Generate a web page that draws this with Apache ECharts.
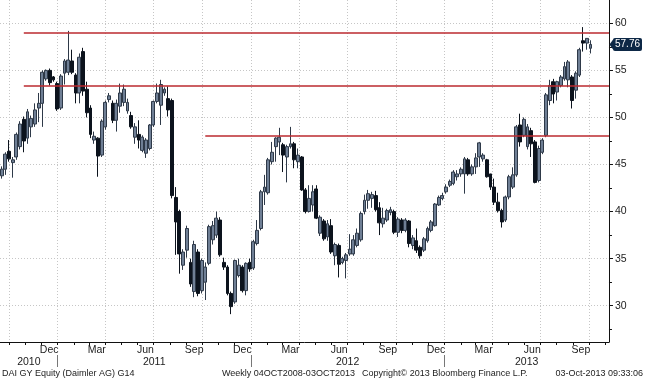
<!DOCTYPE html>
<html><head><meta charset="utf-8">
<script src="https://cdn.jsdelivr.net/npm/echarts@6/dist/echarts.min.js"></script>
<style>html,body{margin:0;padding:0;background:#fff}#c{width:645px;height:380px}</style>
</head><body><div id="c"></div>
<script>
// Weekly candles (week ending dates)
const weeks = [
'2010-09-17','2010-09-24','2010-10-01','2010-10-08','2010-10-15','2010-10-22','2010-10-29','2010-11-05','2010-11-12','2010-11-19',
'2010-11-26','2010-12-03','2010-12-10','2010-12-17','2010-12-24','2010-12-31','2011-01-07','2011-01-14','2011-01-21','2011-01-28',
'2011-02-04','2011-02-11','2011-02-18','2011-02-25','2011-03-04','2011-03-11','2011-03-18','2011-03-25','2011-04-01','2011-04-08',
'2011-04-15','2011-04-22','2011-04-29','2011-05-06','2011-05-13','2011-05-20','2011-05-27','2011-06-03','2011-06-10','2011-06-17',
'2011-06-24','2011-07-01','2011-07-08','2011-07-15','2011-07-22','2011-07-29','2011-08-05','2011-08-12','2011-08-19','2011-08-26',
'2011-09-02','2011-09-09','2011-09-16','2011-09-23','2011-09-30','2011-10-07','2011-10-14','2011-10-21','2011-10-28','2011-11-04',
'2011-11-11','2011-11-18','2011-11-25','2011-12-02','2011-12-09','2011-12-16','2011-12-23','2011-12-30','2012-01-06','2012-01-13',
'2012-01-20','2012-01-27','2012-02-03','2012-02-10','2012-02-17','2012-02-24','2012-03-02','2012-03-09','2012-03-16','2012-03-23',
'2012-03-30','2012-04-06','2012-04-13','2012-04-20','2012-04-27','2012-05-04','2012-05-11','2012-05-18','2012-05-25','2012-06-01',
'2012-06-08','2012-06-15','2012-06-22','2012-06-29','2012-07-06','2012-07-13','2012-07-20','2012-07-27','2012-08-03','2012-08-10',
'2012-08-17','2012-08-24','2012-08-31','2012-09-07','2012-09-14','2012-09-21','2012-09-28','2012-10-05','2012-10-12','2012-10-19',
'2012-10-26','2012-11-02','2012-11-09','2012-11-16','2012-11-23','2012-11-30','2012-12-07','2012-12-14','2012-12-21','2012-12-28',
'2013-01-04','2013-01-11','2013-01-18','2013-01-25','2013-02-01','2013-02-08','2013-02-15','2013-02-22','2013-03-01','2013-03-08',
'2013-03-15','2013-03-22','2013-03-29','2013-04-05','2013-04-12','2013-04-19','2013-04-26','2013-05-03','2013-05-10','2013-05-17',
'2013-05-24','2013-05-31','2013-06-07','2013-06-14','2013-06-21','2013-06-28','2013-07-05','2013-07-12','2013-07-19','2013-07-26',
'2013-08-02','2013-08-09','2013-08-16','2013-08-23','2013-08-30','2013-09-06','2013-09-13','2013-09-20','2013-09-27','2013-10-04'
];
const open = [
43.8,44.5,46.4,45.2,45.8,46.9,49.8,47.8,49.0,49.3, 51.0,51.5,54.1,55.0,54.3,53.6,51.0,54.7,54.8,56.0,
54.5,52.6,57.0,53.0,51.0,47.6,47.8,46.0,49.0,51.9, 51.5,49.7,51.2,51.6,50.7,50.2,47.9,48.2,46.5,46.2,
46.7,49.2,51.7,51.3,52.6,52.0,51.8,41.5,40.0,34.3, 35.9,34.6,31.5,35.7,31.6,32.5,34.5,37.0,37.5,39.1,
34.6,34.1,31.3,30.4,33.2,34.1,31.6,34.6,34.0,36.6, 38.2,42.1,42.0,45.3,46.9,47.4,47.1,45.8,46.9,47.2,
45.3,45.8,42.3,40.0,40.7,42.4,37.7,39.0,37.3,38.5, 35.3,36.4,34.6,34.8,35.5,35.5,36.4,37.0,40.0,41.2,
41.4,41.7,40.4,38.7,39.1,39.9,40.0,37.8,39.1,38.0, 39.0,36.4,36.9,36.2,35.9,36.9,38.0,38.5,40.7,41.4,
42.1,42.8,43.0,43.7,44.0,44.0,45.5,44.0,44.75,45.8, 45.6,45.5,44.0,42.6,41.0,40.1,39.1,41.55,42.6,43.9,
49.2,48.1,46.9,48.6,47.4,43.3,46.3,48.1,51.8,53.8, 52.7,53.4,54.1,54.0,54.3,52.9,54.5,58.15,57.9,57.35
];
const high = [
44.8,46.3,47.6,45.8,48.4,49.6,50.1,50.9,50.2,51.5, 52.6,55.0,55.1,55.2,54.4,53.8,54.6,56.2,59.2,57.2,
54.7,56.8,57.4,53.8,51.3,48.5,47.9,49.8,51.8,52.6, 51.8,51.9,53.6,53.5,52.0,50.6,49.4,49.7,48.1,47.8,
49.3,51.8,53.6,54.0,53.2,53.3,52.0,42.6,40.2,36.0, 38.5,35.0,36.9,36.0,35.0,34.6,38.6,39.0,40.0,39.4,
35.1,34.3,31.5,34.9,35.0,34.3,34.6,35.0,37.0,39.1, 42.3,43.9,45.7,47.4,47.9,48.9,47.3,47.1,49.0,47.4,
46.7,45.9,42.5,42.8,42.8,42.8,39.6,39.2,39.1,39.2, 36.7,36.6,35.2,35.6,37.6,37.5,38.2,40.0,41.8,42.3,
42.1,42.2,41.0,40.4,40.3,40.5,40.2,39.4,39.3,39.3, 39.1,37.5,38.2,36.4,37.3,38.4,39.1,40.9,41.7,42.0,
42.9,43.4,44.4,44.4,44.7,45.8,45.7,45.0,46.2,47.4, 46.2,45.6,44.0,43.5,42.0,40.3,41.7,43.9,44.7,49.2,
50.4,50.0,49.3,48.9,47.6,47.0,47.8,52.6,54.0,54.1, 53.9,54.5,55.9,56.1,54.5,54.9,57.4,59.6,58.4,58.2
];
const low = [
43.5,43.9,45.3,43.6,45.5,46.6,46.3,47.2,47.9,49.0, 49.5,49.0,53.9,53.4,53.8,50.7,50.8,53.5,54.5,54.6,
51.5,51.5,52.3,50.0,47.8,47.2,43.7,45.8,48.7,51.6, 49.4,48.5,50.5,51.2,50.4,48.8,47.2,46.7,46.3,45.7,
46.5,49.0,51.5,49.2,52.3,50.1,41.4,35.4,33.4,33.8, 35.1,32.0,30.9,31.0,31.3,30.6,34.3,36.5,37.2,35.2,
33.8,31.1,29.1,30.2,33.0,31.4,31.1,33.6,33.8,36.4, 38.0,40.7,41.8,45.0,45.3,46.0,44.2,43.1,46.7,44.6,
44.6,42.2,39.8,39.9,40.0,39.2,37.4,36.9,36.9,35.5, 34.3,33.0,34.4,32.9,35.3,35.3,36.2,36.8,39.7,40.3,
40.4,40.0,37.5,38.3,38.9,39.6,37.6,37.3,37.7,37.8, 36.2,36.0,35.6,35.0,35.7,36.7,37.8,38.4,40.6,41.2,
41.9,42.6,42.8,43.3,43.7,41.9,43.8,43.8,44.0,44.75, 45.3,43.6,42.3,40.7,39.9,38.3,38.9,41.3,42.4,43.7,
46.9,47.9,46.6,45.8,43.0,43.1,46.1,47.9,51.3,51.5, 51.8,53.2,53.9,53.2,50.95,52.0,54.3,57.0,57.2,56.8
];
const close = [
44.5,46.1,45.6,45.5,48.2,49.3,47.5,50.6,49.9,50.8, 51.5,54.8,55.0,53.7,54.0,50.9,54.4,56.0,56.1,54.8,
52.6,56.4,52.8,50.5,48.2,48.0,45.9,49.6,51.6,52.3, 49.7,51.5,52.6,53.0,51.6,49.0,49.0,47.6,47.9,47.6,
49.2,51.7,52.6,53.5,53.0,50.8,41.7,38.9,35.5,35.7, 38.2,32.3,36.5,31.3,34.8,34.1,38.4,38.5,39.3,35.4,
34.1,31.3,29.9,34.8,34.3,31.6,34.5,33.9,36.8,38.0, 42.1,42.6,45.5,46.3,47.8,47.9,46.0,46.9,47.2,45.5,
46.0,42.3,40.0,41.4,42.1,39.3,39.4,37.1,38.7,35.7, 36.5,34.4,35.0,35.4,36.0,37.0,37.7,39.8,41.2,41.9,
41.8,40.2,38.8,39.3,40.1,40.2,37.8,39.2,38.0,39.1, 36.6,37.2,35.9,35.3,37.1,38.2,38.9,40.8,41.5,41.7,
42.6,43.2,44.2,44.0,44.5,45.6,44.0,44.75,45.7,47.3, 46.0,43.7,42.6,41.0,40.1,38.9,41.55,43.7,43.9,49.0,
47.4,49.8,49.0,47.2,43.1,46.7,47.6,52.4,53.4,52.5, 53.8,54.3,55.4,55.9,51.8,54.7,57.2,57.9,58.4,57.76
];
// Axis ticks / labels
const yTicks = [30, 35, 40, 45, 50, 55, 60];
const yMinorTicks = [27.5, 32.5, 37.5, 42.5, 47.5, 52.5, 57.5];
const quarterStarts = ['2010-10-01','2011-01-01','2011-04-01','2011-07-01','2011-10-01','2012-01-01','2012-04-01','2012-07-01','2012-10-01','2013-01-01','2013-04-01','2013-07-01','2013-10-01'];
const monthLabelDates = ['2010-12-16','2011-03-16','2011-06-16','2011-09-16','2011-12-16','2012-03-16','2012-06-16','2012-09-16','2012-12-16','2013-03-16','2013-06-16','2013-09-16'];
const monthLabels = ['Dec','Mar','Jun','Sep','Dec','Mar','Jun','Sep','Dec','Mar','Jun','Sep'];
const yearStarts = ['2011-01-01','2012-01-01','2013-01-01'];
const yearLabels = ['2010','2011','2012','2013'];
// Horizontal resistance / support levels drawn on the chart
const levels = [59.04, 53.42, 48.08];
const levelStarts = ['2010-10-29','2010-10-29','2011-10-07'];
const axisStart = '2010-09-14', axisEnd = '2013-11-08';
const yMin = 26.14, yMax = 62.48;

const T = s => Date.parse(s);
const xMin = T(axisStart), xMax = T(axisEnd);
const data = weeks.map((d, i) => [T(d), open[i], close[i], low[i], high[i]]);
const lastClose = close[close.length - 1];

const monthStarts = [];
for (let y = 2010; y <= 2013; y++) for (let m = 0; m < 12; m++) {
  const t = Date.UTC(y, m, 1);
  if (t > xMin && t < xMax) monthStarts.push(t);
}
const yb = [xMin].concat(yearStarts.map(T)).concat([xMax]);
const yearMid = yearLabels.map((_, k) => (yb[k] + yb[k + 1]) / 2);
const monthLabelT = monthLabelDates.map(T);

const FONT = 'Liberation Sans';
const TXT = '#1b1b1b';
const GRIDC = '#c6c6c6';
const NAVY = '#0d2846';
const FOOT = '9px "Liberation Sans"';

const chart = echarts.init(document.getElementById('c'), null, {renderer: 'canvas'});
chart.setOption({
  animation: false,
  backgroundColor: '#ffffff',
  textStyle: {fontFamily: FONT},
  grid: {left: 0, right: 31, top: 0, bottom: 38, containLabel: false},
  xAxis: [
    {type: 'value', min: xMin, max: xMax, gridIndex: 0,
     axisLine: {show: true, onZero: false, lineStyle: {color: '#111', width: 1}},
     axisTick: {show: false, customValues: quarterStarts.map(T)},
     axisLabel: {show: false},
     splitLine: {show: true, lineStyle: {color: GRIDC, width: 1, type: [1, 2]}}},
    {type: 'value', min: xMin, max: xMax, gridIndex: 0, position: 'bottom',
     axisLine: {show: false, onZero: false},
     axisTick: {show: true, customValues: monthStarts, length: 3, lineStyle: {color: '#111'}},
     axisLabel: {show: true, customValues: monthLabelT, hideOverlap: false, margin: 3,
       formatter: v => monthLabels[monthLabelT.indexOf(v)] || '',
       fontSize: 10.5, color: TXT, fontFamily: FONT},
     splitLine: {show: false}},
    {type: 'value', min: xMin, max: xMax, gridIndex: 0, position: 'bottom', offset: 13,
     axisLine: {show: false, onZero: false},
     axisTick: {show: true, customValues: yearStarts.map(T), length: 12, lineStyle: {color: '#777'}},
     axisLabel: {show: true, customValues: yearMid, hideOverlap: false, margin: 2,
       formatter: v => yearLabels[yearMid.indexOf(v)] || '',
       fontSize: 10.5, color: TXT, fontFamily: FONT},
     splitLine: {show: false}}
  ],
  yAxis: [
    {type: 'value', position: 'right', min: yMin, max: yMax,
     axisLine: {show: true, onZero: false, lineStyle: {color: '#111'}},
     axisTick: {show: true, customValues: yTicks, length: 4, lineStyle: {color: '#111'}},
     axisLabel: {customValues: yTicks, margin: 6, fontSize: 10.5, color: TXT, fontFamily: FONT},
     splitLine: {show: true, lineStyle: {color: GRIDC, width: 1, type: [1, 2]}}},
    {type: 'value', position: 'right', min: yMin, max: yMax,
     axisLine: {show: false, onZero: false},
     axisTick: {show: true, customValues: yMinorTicks, length: 3, lineStyle: {color: '#111'}},
     axisLabel: {customValues: [lastClose], formatter: () => lastClose.toFixed(2), margin: 4,
       fontSize: 10, color: '#ffffff', fontFamily: FONT, backgroundColor: NAVY,
       padding: [2, 2, 1, 2], borderRadius: 2},
     splitLine: {show: false}}
  ],
  series: [{
    type: 'candlestick', xAxisIndex: 0, yAxisIndex: 0, data: data,
    barWidth: 3.4,
    itemStyle: {color: '#6f7f95', color0: '#0c131d', borderColor: '#2e3948', borderColor0: '#0c131d', borderWidth: 1},
    markLine: {
      silent: true, symbol: ['none', 'none'], label: {show: false}, animation: false,
      lineStyle: {color: '#bb2a2f', width: 1.6, type: 'solid', opacity: 1},
      emphasis: {disabled: true},
      data: levels.map((v, k) => [{coord: [T(levelStarts[k]), v]}, {coord: [xMax, v]}])
    }
  }],
  graphic: [
    {id: 'f1', type: 'text', left: 2, top: 369, style: {text: 'DAI GY Equity (Daimler AG) G14', fill: TXT, font: FOOT}},
    {id: 'f2', type: 'text', left: 222, top: 369, style: {text: 'Weekly 04OCT2008-03OCT2013', fill: TXT, font: FOOT}},
    {id: 'f3', type: 'text', left: 362, top: 369, style: {text: 'Copyright\u00A9 2013 Bloomberg Finance L.P.', fill: TXT, font: FOOT}},
    {id: 'f4', type: 'text', right: 2, top: 369, style: {text: '03-Oct-2013 09:33:06', fill: TXT, font: FOOT}}
  ]
});
// small pointer on the last-price tag, placed through the axis scale
const p = chart.convertToPixel({xAxisIndex: 0, yAxisIndex: 0}, [xMax, lastClose]);
chart.setOption({graphic: [{id: 'tagArrow', type: 'polygon', z: 100,
  shape: {points: [[p[0] + 0.5, p[1]], [p[0] + 4.5, p[1] - 5.5], [p[0] + 4.5, p[1] + 5.5]]},
  style: {fill: NAVY}}]});
</script></body></html>
